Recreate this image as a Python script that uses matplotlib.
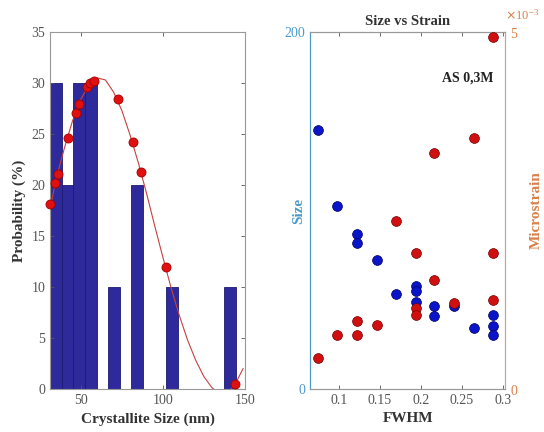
import numpy as np
import matplotlib
matplotlib.use("Agg")
import matplotlib.pyplot as plt
from matplotlib.ticker import ScalarFormatter

plt.rcParams["font.family"] = ["Liberation Serif", "DejaVu Serif"]

# histogram of crystallite size (bin edges in nm, probability in %)
bin_edges = [31.3, 38.4, 45.5, 52.5, 59.6, 66.6, 73.7, 80.7, 87.8, 94.8,
             101.9, 108.9, 116.0, 123.0, 130.1, 137.2, 144.2]
probability = [30, 20, 30, 30, 0, 10, 0, 20, 0, 0, 10, 0, 0, 0, 0, 10]

# fitted curve
curve_x = [31.3, 35, 40, 45, 50, 55, 60, 65, 70, 75, 80, 85, 90, 95, 100,
           105, 110, 115, 120, 125, 130, 135, 140, 144, 148.8]
curve_y = [17.6, 20.6, 23.6, 26.3, 28.4, 29.8, 30.5, 30.3, 29.1, 27.3, 24.9,
           22.2, 19.2, 16.0, 12.9, 9.9, 7.2, 4.8, 2.8, 1.2, 0.1, -0.5, -0.3,
           0.5, 2.0]

# points on the fit
dot_x = [31.3, 34.3, 36.3, 42.0, 47.0, 49.0, 53.8, 55.8, 57.8, 72.5, 81.5,
         86.5, 102.0, 143.6]
dot_y = [18.1, 20.2, 21.1, 24.6, 27.1, 27.9, 29.6, 30.0, 30.2, 28.4, 24.2,
         21.3, 12.0, 0.5]

# size vs strain
fwhm = [0.074, 0.0977, 0.122, 0.122, 0.146, 0.169, 0.194, 0.194, 0.194,
        0.216, 0.216, 0.240, 0.265, 0.288, 0.288, 0.288]
size = [144.9, 102.3, 86.8, 81.6, 72.4, 53.2, 57.5, 55.1, 48.9,
        46.7, 41.1, 46.7, 34.0, 41.6, 35.1, 30.4]
fwhm_s = [0.074, 0.0977, 0.122, 0.122, 0.146, 0.169, 0.194, 0.194, 0.194,
          0.216, 0.216, 0.240, 0.265, 0.288, 0.288, 0.288]
strain = [0.44e-3, 0.76e-3, 0.76e-3, 0.957e-3, 0.896e-3, 2.36e-3, 1.90e-3,
          1.13e-3, 1.04e-3, 3.31e-3, 1.53e-3, 1.20e-3, 3.52e-3, 4.93e-3,
          1.91e-3, 1.25e-3]

BLUE = "#4a9acb"
ORANGE = "#d9804a"
GRAY = "#555555"

fig = plt.figure(figsize=(5.44, 4.32), dpi=100)

# left panel
ax = fig.add_axes([0.092, 0.0995, 0.3585, 0.8264])
widths = np.diff(bin_edges)
ax.bar(bin_edges[:-1], probability, width=widths, align="edge",
       color="#2e2a9c", edgecolor="#1c1a70", linewidth=0.6)
ax.plot(curve_x, curve_y, color="#c84040", lw=0.8)
ax.plot(dot_x, dot_y, "o", color="#e01010", mec="#a00000", ms=6.5, mew=0.6,
        clip_on=False, zorder=4)
ax.set_xlim(31.3, 148.8)
ax.set_ylim(0, 35)
ax.set_xticks([50, 100, 150])
ax.set_yticks(range(0, 36, 5))
ax.tick_params(direction="in", top=True, right=True, labelsize=10,
               colors=GRAY, length=3, width=0.6)
for s in ax.spines.values():
    s.set_color("#999999")
ax.set_xlabel("Crystallite Size (nm)", fontsize=11, fontweight="bold", color="#333")
ax.set_ylabel("Probability (%)", fontsize=11, fontweight="bold", color="#333",
              labelpad=4)

# right panel
ax2 = fig.add_axes([0.5704, 0.0995, 0.3585, 0.8264])
ax2.scatter(fwhm, size, s=50, color="#0a14c8", edgecolors="#000060",
            linewidths=0.5, zorder=3)
ax2.set_xlim(0.065, 0.303)
ax2.set_ylim(0, 200)
ax2.set_yticks([0, 200])
ax2.set_xticks([0.1, 0.15, 0.2, 0.25, 0.3])
ax2.set_xticklabels(["0.1", "0.15", "0.2", "0.25", "0.3"])
ax2.tick_params(axis="x", direction="in", top=True, labelsize=10,
                colors=GRAY, length=3, width=0.6)
ax2.tick_params(axis="y", direction="in", labelsize=10, colors=BLUE,
                length=3, width=0.6)
ax2.set_ylabel("Size", fontsize=11, fontweight="bold", color=BLUE, labelpad=-15)
ax2.set_xlabel("FWHM", fontsize=11, fontweight="bold", color="#333")
ax2.set_title("Size vs Strain", fontsize=10.5, fontweight="bold", color="#333",
              pad=5)
ax2.text(0.94, 0.87, "AS 0,3M", transform=ax2.transAxes, ha="right",
         va="center", fontsize=10, fontweight="bold", color="#222")

ax3 = ax2.twinx()
ax3.scatter(fwhm_s, strain, s=50, color="#d01010", edgecolors="#700000",
            linewidths=0.5, zorder=3)
ax3.set_ylim(0, 5e-3)
ax3.set_yticks([0, 5e-3])
fmt = ScalarFormatter(useMathText=True)
fmt.set_powerlimits((-2, 2))
ax3.yaxis.set_major_formatter(fmt)
ax3.yaxis.OFFSETTEXTPAD = 9
off = ax3.yaxis.get_offset_text()
off.set_color("#e0a080")
off.set_fontsize(9)
off.set_horizontalalignment("left")
ax3.tick_params(axis="y", direction="in", labelsize=10, colors=ORANGE,
                length=3, width=0.6)
ax3.set_ylabel("Microstrain", fontsize=11, fontweight="bold", color=ORANGE,
               rotation=90, labelpad=8)

ax2.spines["left"].set_color(BLUE)
ax2.spines["top"].set_color("#999999")
ax2.spines["bottom"].set_color("#999999")
ax2.spines["right"].set_color("#bbaa99")
ax3.spines["left"].set_color(BLUE)
ax3.spines["right"].set_color("#bbaa99")
ax3.spines["top"].set_color("#999999")
ax3.spines["bottom"].set_color("#999999")

fig.savefig("out.png", dpi=100)
